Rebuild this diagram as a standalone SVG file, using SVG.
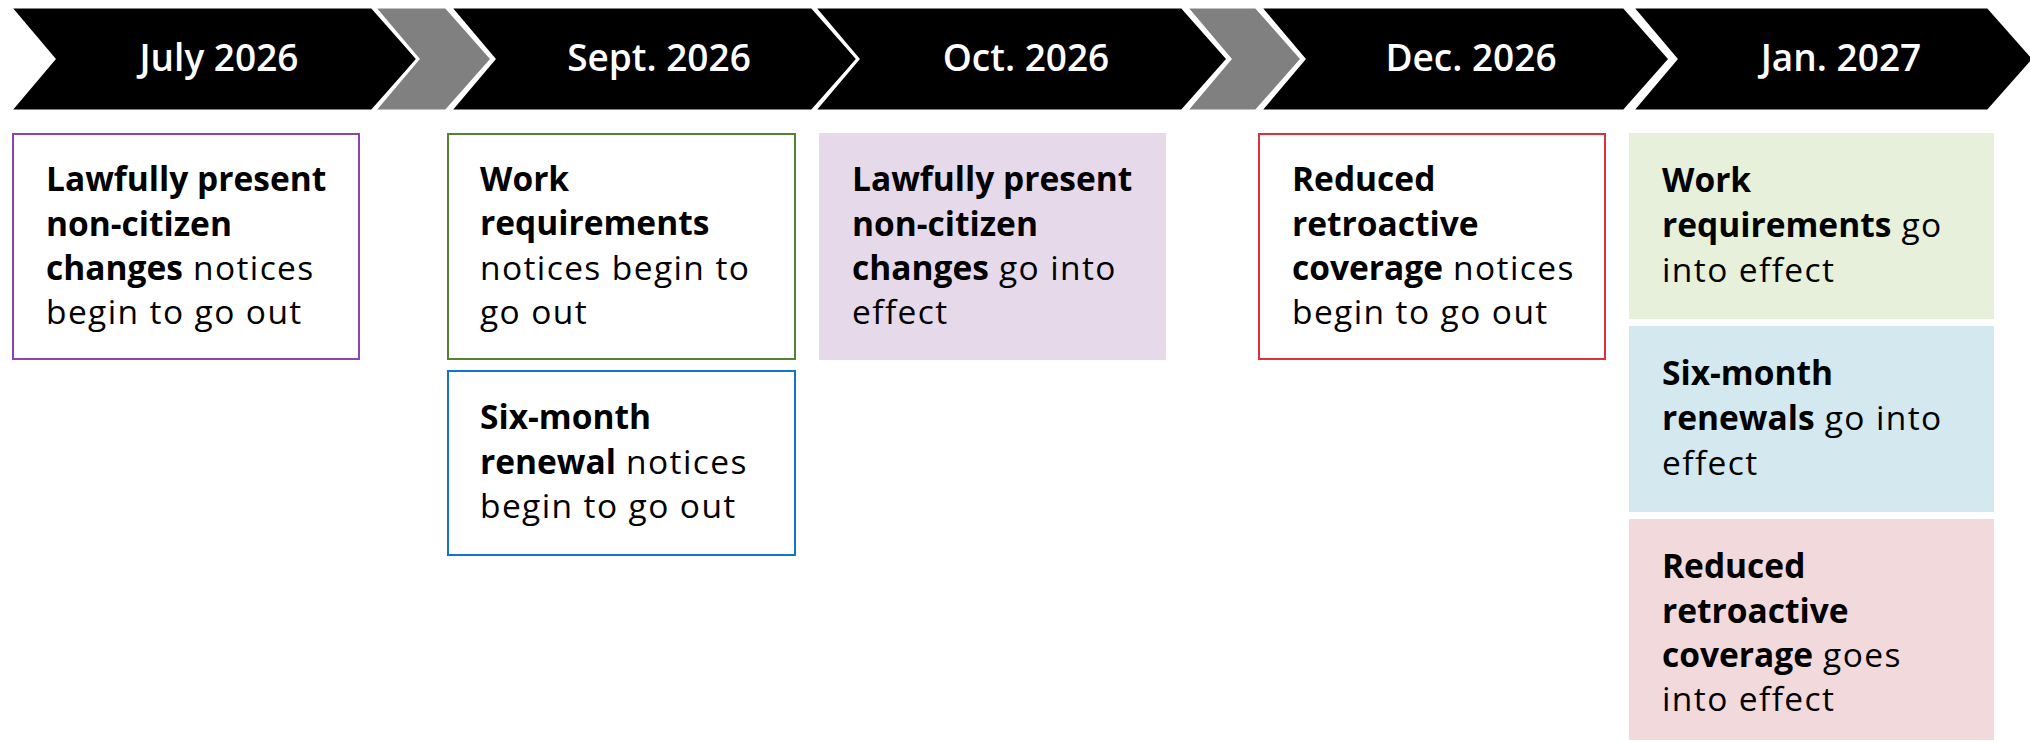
<svg xmlns="http://www.w3.org/2000/svg" width="2030" height="742" viewBox="0 0 2030 742">
<style>
.chev{fill:#000;stroke:#fff;stroke-width:3;stroke-linejoin:miter}
.gray{fill:#808080;stroke:#fff;stroke-width:3;stroke-linejoin:miter}
.hd{font-family:"Open Sans","Liberation Sans",sans-serif;font-weight:600;font-size:37px;fill:#fff;text-anchor:middle}
.tx{font-family:"Open Sans","Liberation Sans",sans-serif;font-size:33.5px;fill:#000;letter-spacing:1.4px}
.b{font-weight:700;letter-spacing:0}
</style>
<rect width="2030" height="742" fill="#fff"/>
<g id="timeline">
<g id="july"><polygon class="chev" points="10,7 372,7 418,59 372,111 10,111 54,59"/><text class="hd" x="219" y="71">July 2026</text></g>
<g id="arrow1"><polygon class="gray" points="374,7 446,7 492,59 446,111 374,111 418,59"/></g>
<g id="sept"><polygon class="chev" points="450,7 812,7 858,59 812,111 450,111 494,59"/><text class="hd" x="659" y="71">Sept. 2026</text></g>
<g id="oct"><polygon class="chev" points="814,7 1182,7 1228,59 1182,111 814,111 858,59"/><text class="hd" x="1026" y="71">Oct. 2026</text></g>
<g id="arrow2"><polygon class="gray" points="1186,7 1256,7 1302,59 1256,111 1186,111 1230,59"/></g>
<g id="dec"><polygon class="chev" points="1260,7 1624,7 1670,59 1624,111 1260,111 1304,59"/><text class="hd" x="1471" y="71">Dec. 2026</text></g>
<g id="jan"><polygon class="chev" points="1632,7 1988,7 2034,59 1988,111 1632,111 1676,59"/><text class="hd" x="1841" y="71">Jan. 2027</text></g>
</g>
<g id="connectors"></g>
<g id="box-july">
<rect x="13" y="134" width="346" height="225" fill="#fff" stroke="#8E44AD" stroke-width="2"/>
<text class="tx" x="46" y="191"><tspan class="b">Lawfully present</tspan></text>
<text class="tx" x="46" y="236"><tspan class="b">non-citizen</tspan></text>
<text class="tx" x="46" y="280"><tspan class="b">changes</tspan> notices</text>
<text class="tx" x="46" y="324">begin to go out</text>
</g>
<g id="box-sept-work">
<rect x="448" y="134" width="347" height="225" fill="#fff" stroke="#548235" stroke-width="2"/>
<text class="tx" x="480" y="191"><tspan class="b">Work</tspan></text>
<text class="tx" x="480" y="235"><tspan class="b">requirements</tspan></text>
<text class="tx" x="480" y="280">notices begin to</text>
<text class="tx" x="480" y="324">go out</text>
</g>
<g id="box-sept-renewal">
<rect x="448" y="371" width="347" height="184" fill="#fff" stroke="#1273D1" stroke-width="2"/>
<text class="tx" x="480" y="429"><tspan class="b">Six-month</tspan></text>
<text class="tx" x="480" y="474"><tspan class="b">renewal</tspan> notices</text>
<text class="tx" x="480" y="518">begin to go out</text>
</g>
<g id="box-oct">
<rect x="819" y="133" width="347" height="227" fill="#E6DAEA"/>
<text class="tx" x="852" y="191"><tspan class="b">Lawfully present</tspan></text>
<text class="tx" x="852" y="236"><tspan class="b">non-citizen</tspan></text>
<text class="tx" x="852" y="280"><tspan class="b">changes</tspan> go into</text>
<text class="tx" x="852" y="324">effect</text>
</g>
<g id="box-dec">
<rect x="1259" y="134" width="346" height="225" fill="#fff" stroke="#E0303F" stroke-width="2"/>
<text class="tx" x="1292" y="191"><tspan class="b">Reduced</tspan></text>
<text class="tx" x="1292" y="236"><tspan class="b">retroactive</tspan></text>
<text class="tx" x="1292" y="280"><tspan class="b">coverage</tspan> notices</text>
<text class="tx" x="1292" y="324">begin to go out</text>
</g>
<g id="box-jan-work">
<rect x="1629" y="133" width="365" height="186" fill="#E6F0DA"/>
<text class="tx" x="1662" y="192"><tspan class="b">Work</tspan></text>
<text class="tx" x="1662" y="237"><tspan class="b">requirements</tspan> go</text>
<text class="tx" x="1662" y="282">into effect</text>
</g>
<g id="box-jan-renewal">
<rect x="1629" y="326" width="365" height="186" fill="#D3E8EF"/>
<text class="tx" x="1662" y="385"><tspan class="b">Six-month</tspan></text>
<text class="tx" x="1662" y="430"><tspan class="b">renewals</tspan> go into</text>
<text class="tx" x="1662" y="475">effect</text>
</g>
<g id="box-jan-retro">
<rect x="1629" y="519" width="365" height="221" fill="#F2D9DB"/>
<text class="tx" x="1662" y="578"><tspan class="b">Reduced</tspan></text>
<text class="tx" x="1662" y="623"><tspan class="b">retroactive</tspan></text>
<text class="tx" x="1662" y="667"><tspan class="b">coverage</tspan> goes</text>
<text class="tx" x="1662" y="711">into effect</text>
</g>
</svg>
